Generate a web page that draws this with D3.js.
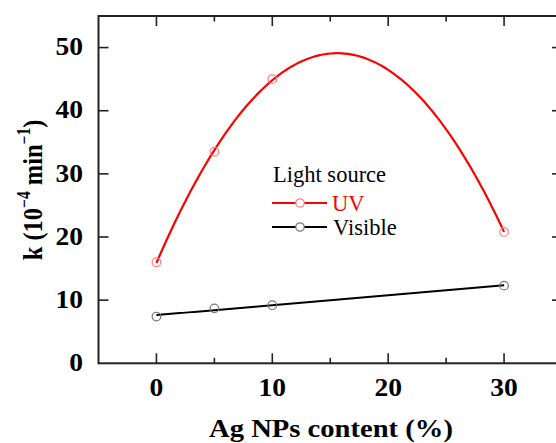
<!DOCTYPE html>
<html>
<head>
<meta charset="utf-8">
<script src="https://cdn.jsdelivr.net/npm/d3@7"></script>
<style>
  html, body { margin: 0; padding: 0; background: #fff; }
  svg { display: block; font-family: "Liberation Serif", "Times New Roman", serif; }
</style>
</head>
<body>
<svg id="chart" width="556" height="443"></svg>
<script>
// Ag NPs content (%) and measured rate constants k (10^-4 min^-1)
const agContent = [0, 5, 10, 30];
const kUV = [16.0, 33.5, 45.0, 20.8];
const kVisible = [7.4, 8.7, 9.2, 12.3];
const xTicks = [0, 10, 20, 30];
const yTicks = [0, 10, 20, 30, 40, 50];

const svg = d3.select("#chart");
const margin = { left: 98.5, top: 16, right: 562, bottom: 363.3 };

const x = d3.scaleLinear().domain([-5, 35]).range([margin.left, margin.right]);
const y = d3.scaleLinear().domain([0, 55]).range([margin.bottom, margin.top]);

// least-squares polynomial fit (degree 1 or 2) via normal equations
function polyFit(xs, ys, deg) {
  const n = deg + 1;
  const A = Array.from({ length: n }, () => new Array(n + 1).fill(0));
  xs.forEach((xv, i) => {
    for (let r = 0; r < n; r++) {
      for (let c = 0; c < n; c++) A[r][c] += Math.pow(xv, r + c);
      A[r][n] += ys[i] * Math.pow(xv, r);
    }
  });
  for (let i = 0; i < n; i++) {
    let p = i;
    for (let k = i + 1; k < n; k++) if (Math.abs(A[k][i]) > Math.abs(A[p][i])) p = k;
    [A[i], A[p]] = [A[p], A[i]];
    for (let k = i + 1; k < n; k++) {
      const f = A[k][i] / A[i][i];
      for (let j = i; j <= n; j++) A[k][j] -= f * A[i][j];
    }
  }
  const coef = new Array(n).fill(0);
  for (let i = n - 1; i >= 0; i--) {
    let s = A[i][n];
    for (let j = i + 1; j < n; j++) s -= A[i][j] * coef[j];
    coef[i] = s / A[i][i];
  }
  return xv => coef.reduce((s, c, i) => s + c * Math.pow(xv, i), 0);
}

const fitUV = polyFit(agContent, kUV, 2);
const fitVis = polyFit(agContent, kVisible, 1);
const xs = d3.range(0, 30.001, 0.25);

const line = d3.line().x(d => x(d[0])).y(d => y(d[1]));

// fitted curves
svg.append("path")
  .attr("d", line(xs.map(v => [v, fitUV(v)])))
  .attr("fill", "none").attr("stroke", "#ff0000").attr("stroke-width", 2.2);
svg.append("path")
  .attr("d", line(xs.map(v => [v, fitVis(v)])))
  .attr("fill", "none").attr("stroke", "#000").attr("stroke-width", 2);

// measured points
svg.append("g").selectAll("circle").data(agContent).join("circle")
  .attr("cx", d => x(d)).attr("cy", (d, i) => y(kUV[i])).attr("r", 4.3)
  .attr("fill", "none").attr("stroke", "#ff8080").attr("stroke-width", 1.2);
svg.append("g").selectAll("circle").data(agContent).join("circle")
  .attr("cx", d => x(d)).attr("cy", (d, i) => y(kVisible[i])).attr("r", 4.3)
  .attr("fill", "none").attr("stroke", "#777").attr("stroke-width", 1.2);

// frame and ticks
const axisColor = "#222";
svg.append("rect")
  .attr("x", margin.left).attr("y", margin.top)
  .attr("width", margin.right - margin.left).attr("height", margin.bottom - margin.top)
  .attr("fill", "none").attr("stroke", axisColor).attr("stroke-width", 2);

const xMinor = d3.range(-5, 36, 5).filter(v => v > -5 && v < 35 && !xTicks.includes(v));
function xTickMarks(vals, len) {
  vals.forEach(v => {
    svg.append("line").attr("x1", x(v)).attr("x2", x(v))
      .attr("y1", margin.bottom).attr("y2", margin.bottom - len)
      .attr("stroke", axisColor).attr("stroke-width", 1.6);
    svg.append("line").attr("x1", x(v)).attr("x2", x(v))
      .attr("y1", margin.top).attr("y2", margin.top + len)
      .attr("stroke", axisColor).attr("stroke-width", 1.6);
  });
}
xTickMarks(xTicks, 10);
xTickMarks(xMinor, 5.5);

yTicks.filter(v => v > 0).forEach(v => {
  svg.append("line").attr("x1", margin.left).attr("x2", margin.left + 10)
    .attr("y1", y(v)).attr("y2", y(v)).attr("stroke", axisColor).attr("stroke-width", 1.6);
  svg.append("line").attr("x1", margin.right).attr("x2", margin.right - 10)
    .attr("y1", y(v)).attr("y2", y(v)).attr("stroke", axisColor).attr("stroke-width", 1.6);
});

// tick labels (slightly widened glyphs)
svg.append("g").selectAll("text").data(xTicks).join("text")
  .attr("transform", d => `translate(${x(d)},396) scale(1.08,1)`)
  .attr("text-anchor", "middle").attr("font-size", 25.5).attr("font-weight", "bold")
  .text(d => d);
svg.append("g").selectAll("text").data(yTicks).join("text")
  .attr("transform", d => `translate(83,${y(d)}) scale(1.08,1)`)
  .attr("dy", "0.3em")
  .attr("text-anchor", "end").attr("font-size", 25.5).attr("font-weight", "bold")
  .text(d => d);

// axis titles
svg.append("text")
  .attr("transform", "translate(331,437) scale(1.1,1)")
  .attr("text-anchor", "middle").attr("font-size", 26).attr("font-weight", "bold")
  .text("Ag NPs content (%)");

const yTitle = svg.append("text")
  .attr("transform", "translate(41.5,190) scale(1.15,1) rotate(-90)")
  .attr("text-anchor", "middle").attr("font-size", 24.5).attr("font-weight", "bold");
yTitle.append("tspan").text("k (10");
yTitle.append("tspan").attr("font-size", 15.5).attr("dy", -10).text("\u22124");
yTitle.append("tspan").attr("dy", 10).text(" min");
yTitle.append("tspan").attr("font-size", 15.5).attr("dy", -10).text("\u22121");
yTitle.append("tspan").attr("dy", 10).text(")");

// legend
const legend = svg.append("g");
legend.append("text").attr("x", 273).attr("y", 181.5).attr("font-size", 22.5).text("Light source");
const legendItems = [
  { name: "UV", line: "#ff0000", marker: "#ff8080", text: "#ff0000", yPos: 203, tx: 332 },
  { name: "Visible", line: "#000", marker: "#777", text: "#000", yPos: 227, tx: 333 }
];
legendItems.forEach(it => {
  legend.append("line").attr("x1", 272).attr("x2", 327).attr("y1", it.yPos).attr("y2", it.yPos)
    .attr("stroke", it.line).attr("stroke-width", 2);
  legend.append("circle").attr("cx", 300).attr("cy", it.yPos).attr("r", 4.2)
    .attr("fill", "#fff").attr("stroke", it.marker).attr("stroke-width", 1.2);
  legend.append("text").attr("x", it.tx).attr("y", it.yPos + 8).attr("font-size", 22.5)
    .attr("fill", it.text).text(it.name);
});
</script>
</body>
</html>
